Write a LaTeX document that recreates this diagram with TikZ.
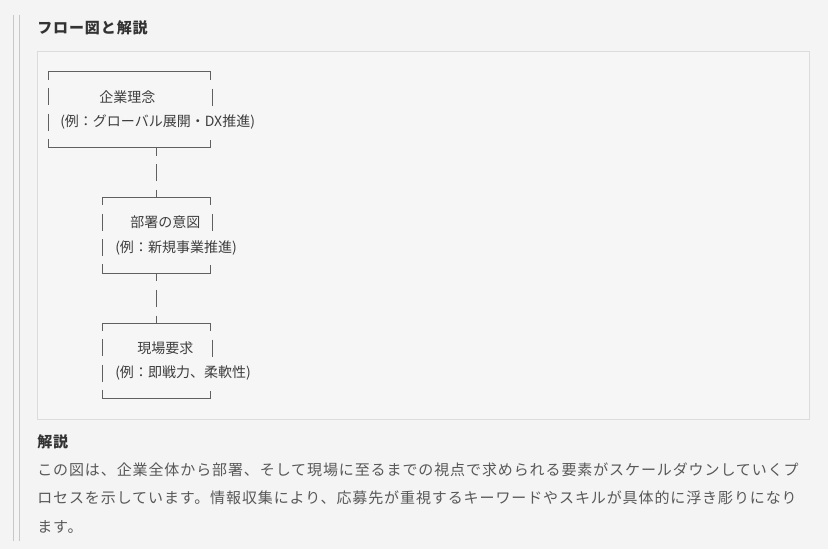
\documentclass[tikz,border=0pt]{standalone}
\usepackage{fontspec}
\setmainfont{Noto Sans CJK JP}
\newfontfamily\bodyfont[LetterSpace=6]{Noto Sans CJK JP}

\definecolor{pagebg}{HTML}{F4F4F4}
\definecolor{codebg}{HTML}{F6F6F6}
\definecolor{codeborder}{HTML}{DCDCDC}
\definecolor{quotegray}{HTML}{C8C8C8}
\definecolor{artgray}{HTML}{606060}
\definecolor{headtext}{HTML}{333333}
\definecolor{codetext}{HTML}{3E3E3E}
\definecolor{bodytext}{HTML}{585858}

\tikzset{
  head/.style={anchor=west,inner sep=0pt,text=headtext,
    font=\bodyfont\bfseries\fontsize{11.25}{14}\selectfont},
  body/.style={anchor=west,inner sep=0pt,text=bodytext,
    font=\bodyfont\fontsize{11.25}{14}\selectfont},
  artlabel/.style={anchor=west,inner sep=0pt,text=codetext,
    font=\fontsize{10.5}{13}\selectfont},
  artbox/.style={anchor=north west,inner sep=0pt,minimum height=56.5pt},
  artline/.style={draw=artgray,line width=0.75pt},
  stem/.style={artline,dash pattern=on 6pt off 6.4pt on 12.8pt off 6.4pt on 6pt}
}

% box of box-drawing characters round a named node
\newcommand\drawartbox[1]{%
  \draw[artline] (#1.north west) -- (#1.north east) -- ([yshift=-6pt]#1.north east);
  \draw[artline] (#1.south west) -- (#1.south east) -- ([yshift=6pt]#1.south east);
  \draw[artline,dash pattern=on 6pt off 6.2pt on 12.8pt off 6.2pt on 12.8pt off 6.2pt on 6.3pt]
    (#1.north west) -- (#1.south west);
  \draw[artline] ([xshift=1.1pt,yshift=-12.4pt]#1.north east) -- ([xshift=1.1pt,yshift=-25.2pt]#1.north east);
}

\begin{document}
\begin{tikzpicture}[x=0.75pt,y=-0.75pt]
\useasboundingbox[fill=pagebg] (0,0) rectangle (828,549);
\draw[quotegray,line width=0.75pt] (13.5,15) -- (13.5,541);
\draw[quotegray,line width=0.75pt] (19,15) -- (19,541);

\node[head] (title) at (37,28) {フロー図と解説};

% code block
\draw[draw=codeborder,fill=codebg,line width=0.75pt] (37,52) rectangle (809,419);

\node[artbox,minimum width=121.5pt] (vision) at (48,72) {};
\node[artbox,minimum width=81pt] (dept) at (102,197.5) {};
\node[artbox,minimum width=81pt] (field) at (102,323) {};
\coordinate (stemx) at (156,0);

\foreach \b in {vision,dept,field} {\drawartbox{\b}}
\draw[stem] (vision.south -| stemx) -- (dept.north -| stemx);
\draw[stem] (dept.south -| stemx) -- (field.north -| stemx);

\node[artlabel] (vision name) at (99,97) {企業理念};
\node[artlabel] (vision ex) at (60,122) {(例：グローバル展開・DX推進)};
\node[artlabel] (dept name) at (130,222.6) {部署の意図};
\node[artlabel] (dept ex) at (115,247.7) {(例：新規事業推進)};
\node[artlabel] (field name) at (137,348.1) {現場要求};
\node[artlabel] (field ex) at (115,373.2) {(例：即戦力、柔軟性)};

% explanation
\node[head] (note head) at (37,442) {解説};
\node[body] (note1) at (37,470) {この図は、企業全体から部署、そして現場に至るまでの視点で求められる要素がスケールダウンしていくプ};
\node[body] (note2) at (37,498) {ロセスを示しています。情報収集により、応募先が重視するキーワードやスキルが具体的に浮き彫りになり};
\node[body] (note3) at (37,527) {ます。};
\end{tikzpicture}
\end{document}
